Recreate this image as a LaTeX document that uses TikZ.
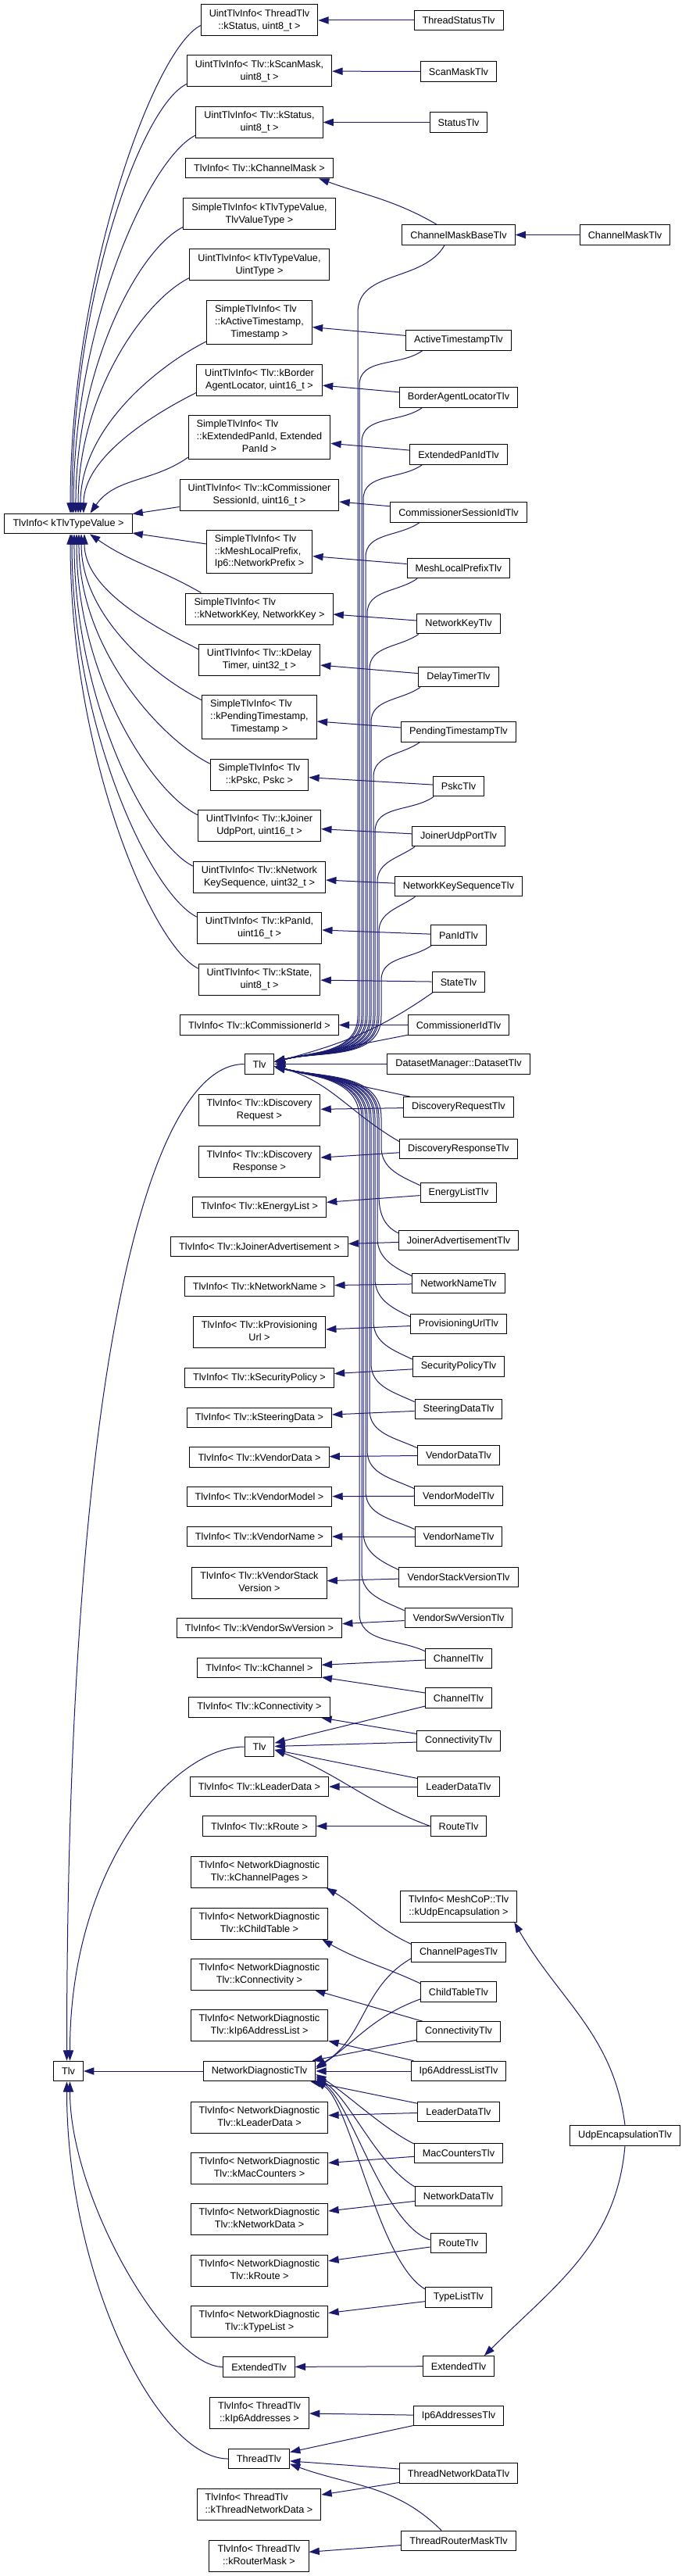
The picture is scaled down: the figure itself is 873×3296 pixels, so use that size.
\documentclass[tikz,border=0pt]{standalone}
\usepackage{fontspec}
\setmainfont{Liberation Sans}
\usetikzlibrary{arrows.meta,backgrounds}

\definecolor{edgeblue}{RGB}{25,25,112}
\newcommand{\twolines}[2]{\begin{tabular}{@{}l@{}}#1\\\multicolumn{1}{@{}c@{}}{#2}\end{tabular}}

\begin{document}
\begin{tikzpicture}[x=0.75pt, y=0.75pt,
    every node/.append style={font=\fontsize{9.5}{11.8}\selectfont},
    derive/.style={draw=edgeblue, line width=0.75pt, -{Triangle[length=10pt,width=7pt]}}]
  \tikzstyle{classbox} = [draw=black, fill=white, line width=0.75pt, inner xsep=7.9pt, inner ysep=3.2pt, minimum height=19.3pt]
  \useasboundingbox (0,0) rectangle (873,-3296);

  % bases on the left
  \node[classbox] (TlvTV) at (87.5,-670) {TlvInfo< kTlvTypeValue >};
  \node[classbox] (TlvMain) at (87.5,-2650) {Tlv};

  % middle column
  \node[classbox] (UThreadStatus) at (332,-26) {\twolines{UintTlvInfo< ThreadTlv}{::kStatus, uint8\_t >}};
  \node[classbox] (UScanMask) at (332,-91) {\twolines{UintTlvInfo< Tlv::kScanMask,}{uint8\_t >}};
  \node[classbox] (UStatus) at (332,-156.5) {\twolines{UintTlvInfo< Tlv::kStatus,}{uint8\_t >}};
  \node[classbox] (TChannelMask) at (332,-215) {TlvInfo< Tlv::kChannelMask >};
  \node[classbox] (SGeneric) at (332,-274) {\twolines{SimpleTlvInfo< kTlvTypeValue,}{TlvValueType >}};
  \node[classbox] (UGeneric) at (332,-339) {\twolines{UintTlvInfo< kTlvTypeValue,}{UintType >}};
  \node[classbox] (SActiveTs) at (332,-412.5) {\twolines{SimpleTlvInfo< Tlv\\::kActiveTimestamp,}{Timestamp >}};
  \node[classbox] (UBorderAgent) at (332,-486) {\twolines{UintTlvInfo< Tlv::kBorder}{AgentLocator, uint16\_t >}};
  \node[classbox] (SExtPanId) at (332,-559.5) {\twolines{SimpleTlvInfo< Tlv\\::kExtendedPanId, Extended}{PanId >}};
  \node[classbox] (UCommSession) at (332,-633) {\twolines{UintTlvInfo< Tlv::kCommissioner}{SessionId, uint16\_t >}};
  \node[classbox] (SMeshLocal) at (332,-706) {\twolines{SimpleTlvInfo< Tlv\\::kMeshLocalPrefix,}{Ip6::NetworkPrefix >}};
  \node[classbox] (SNetworkKey) at (332,-779) {\twolines{SimpleTlvInfo< Tlv}{::kNetworkKey, NetworkKey >}};
  \node[classbox] (UDelayTimer) at (332,-844.5) {\twolines{UintTlvInfo< Tlv::kDelay}{Timer, uint32\_t >}};
  \node[classbox] (SPendingTs) at (332,-917.5) {\twolines{SimpleTlvInfo< Tlv\\::kPendingTimestamp,}{Timestamp >}};
  \node[classbox] (SPskc) at (332,-991) {\twolines{SimpleTlvInfo< Tlv}{::kPskc, Pskc >}};
  \node[classbox] (UJoinerUdp) at (332,-1056.5) {\twolines{UintTlvInfo< Tlv::kJoiner}{UdpPort, uint16\_t >}};
  \node[classbox] (UNetKeySeq) at (332,-1122) {\twolines{UintTlvInfo< Tlv::kNetwork}{KeySequence, uint32\_t >}};
  \node[classbox] (UPanId) at (332,-1187) {\twolines{UintTlvInfo< Tlv::kPanId,}{uint16\_t >}};
  \node[classbox] (UState) at (332,-1253) {\twolines{UintTlvInfo< Tlv::kState,}{uint8\_t >}};
  \node[classbox] (TCommId) at (332,-1311.5) {TlvInfo< Tlv::kCommissionerId >};
  \node[classbox] (TlvA) at (332,-1361.5) {Tlv};
  \node[classbox] (TDiscReq) at (332,-1420.5) {\twolines{TlvInfo< Tlv::kDiscovery}{Request >}};
  \node[classbox] (TDiscResp) at (332,-1486) {\twolines{TlvInfo< Tlv::kDiscovery}{Response >}};
  \node[classbox] (TEnergyList) at (332,-1544.5) {TlvInfo< Tlv::kEnergyList >};
  \node[classbox] (TJoinerAdv) at (332,-1595) {TlvInfo< Tlv::kJoinerAdvertisement >};
  \node[classbox] (TNetworkName) at (332,-1646) {TlvInfo< Tlv::kNetworkName >};
  \node[classbox] (TProvUrl) at (332,-1704.5) {\twolines{TlvInfo< Tlv::kProvisioning}{Url >}};
  \node[classbox] (TSecPolicy) at (332,-1763) {TlvInfo< Tlv::kSecurityPolicy >};
  \node[classbox] (TSteeringData) at (332,-1814) {TlvInfo< Tlv::kSteeringData >};
  \node[classbox] (TVendorData) at (332,-1864.5) {TlvInfo< Tlv::kVendorData >};
  \node[classbox] (TVendorModel) at (332,-1915) {TlvInfo< Tlv::kVendorModel >};
  \node[classbox] (TVendorName) at (332,-1966) {TlvInfo< Tlv::kVendorName >};
  \node[classbox] (TVendorStack) at (332,-2025) {\twolines{TlvInfo< Tlv::kVendorStack}{Version >}};
  \node[classbox] (TVendorSw) at (332,-2083) {TlvInfo< Tlv::kVendorSwVersion >};
  \node[classbox] (TChannel) at (332,-2134) {TlvInfo< Tlv::kChannel >};
  \node[classbox] (TConnectivity) at (332,-2184.5) {TlvInfo< Tlv::kConnectivity >};
  \node[classbox] (TlvB) at (332,-2235) {Tlv};
  \node[classbox] (TLeaderData) at (332,-2286) {TlvInfo< Tlv::kLeaderData >};
  \node[classbox] (TRoute) at (332,-2336.5) {TlvInfo< Tlv::kRoute >};
  \node[classbox] (NChannelPages) at (332,-2395) {\twolines{TlvInfo< NetworkDiagnostic}{Tlv::kChannelPages >}};
  \node[classbox] (NChildTable) at (332,-2461) {\twolines{TlvInfo< NetworkDiagnostic}{Tlv::kChildTable >}};
  \node[classbox] (NConnectivity) at (332,-2526) {\twolines{TlvInfo< NetworkDiagnostic}{Tlv::kConnectivity >}};
  \node[classbox] (NIp6AddrList) at (332,-2591) {\twolines{TlvInfo< NetworkDiagnostic}{Tlv::kIp6AddressList >}};
  \node[classbox] (NetDiagTlv) at (332,-2650) {NetworkDiagnosticTlv};
  \node[classbox] (NLeaderData) at (332,-2709) {\twolines{TlvInfo< NetworkDiagnostic}{Tlv::kLeaderData >}};
  \node[classbox] (NMacCounters) at (332,-2774) {\twolines{TlvInfo< NetworkDiagnostic}{Tlv::kMacCounters >}};
  \node[classbox] (NNetworkData) at (332,-2839) {\twolines{TlvInfo< NetworkDiagnostic}{Tlv::kNetworkData >}};
  \node[classbox] (NRoute) at (332,-2905) {\twolines{TlvInfo< NetworkDiagnostic}{Tlv::kRoute >}};
  \node[classbox] (NTypeList) at (332,-2970) {\twolines{TlvInfo< NetworkDiagnostic}{Tlv::kTypeList >}};
  \node[classbox] (ExtTlvBase) at (331.5,-3028.5) {ExtendedTlv};
  \node[classbox] (TIp6Addrs) at (332,-3087) {\twolines{TlvInfo< ThreadTlv}{::kIp6Addresses >}};
  \node[classbox] (ThreadTlv) at (331.5,-3146) {ThreadTlv};
  \node[classbox] (TThreadNetData) at (331.5,-3204.5) {\twolines{TlvInfo< ThreadTlv}{::kThreadNetworkData >}};
  \node[classbox] (TRouterMask) at (331.5,-3270) {\twolines{TlvInfo< ThreadTlv}{::kRouterMask >}};

  % derived classes
  \foreach \nm/\yy in {ThreadStatusTlv/26, ScanMaskTlv/91.5, StatusTlv/156.5, ChannelMaskBaseTlv/300.5,
      ActiveTimestampTlv/435.5, BorderAgentLocatorTlv/508.5, ExtendedPanIdTlv/581.5, CommissionerSessionIdTlv/655.5,
      MeshLocalPrefixTlv/727, NetworkKeyTlv/798, DelayTimerTlv/866, PendingTimestampTlv/936.5, PskcTlv/1006,
      JoinerUdpPortTlv/1070, NetworkKeySequenceTlv/1134, PanIdTlv/1196.5, StateTlv/1256.5, CommissionerIdTlv/1311.5,
      DiscoveryRequestTlv/1416.5, DiscoveryResponseTlv/1470, EnergyListTlv/1526, JoinerAdvertisementTlv/1587,
      NetworkNameTlv/1642, ProvisioningUrlTlv/1694, SecurityPolicyTlv/1748.5, SteeringDataTlv/1803,
      VendorDataTlv/1862, VendorModelTlv/1914, VendorNameTlv/1966, VendorStackVersionTlv/2018,
      VendorSwVersionTlv/2070, ChannelPagesTlv/2498, ChildTableTlv/2548.5, Ip6AddressListTlv/2650,
      MacCountersTlv/2755, NetworkDataTlv/2810, TypeListTlv/2939.5, ExtendedTlv/3027.5, Ip6AddressesTlv/3091,
      ThreadNetworkDataTlv/3164.5, ThreadRouterMaskTlv/3251}
    \node[classbox] (\nm) at (587,-\yy) {\nm};
  \node[classbox] (DatasetTlv) at (587,-1361.5) {DatasetManager::DatasetTlv};
  \node[classbox] (ChannelTlvA) at (587,-2122) {ChannelTlv};
  \node[classbox] (ChannelTlvB) at (587,-2172.5) {ChannelTlv};
  \node[classbox] (ConnectivityTlvB) at (587,-2227.5) {ConnectivityTlv};
  \node[classbox] (LeaderDataTlvB) at (587,-2286) {LeaderDataTlv};
  \node[classbox] (RouteTlvB) at (587,-2336.5) {RouteTlv};
  \node[classbox] (TUdpEncap) at (587,-2439) {\twolines{TlvInfo< MeshCoP::Tlv}{::kUdpEncapsulation >}};
  \node[classbox] (ConnectivityTlvN) at (587,-2599.5) {ConnectivityTlv};
  \node[classbox] (LeaderDataTlvN) at (587,-2702) {LeaderDataTlv};
  \node[classbox] (RouteTlvN) at (587,-2870) {RouteTlv};
  \node[classbox] (ChannelMaskTlv) at (800,-300.5) {ChannelMaskTlv};
  \node[classbox] (UdpEncapsulationTlv) at (800,-2732.5) {UdpEncapsulationTlv};

  \begin{scope}[on background layer]
    \fill[white] (0,0) rectangle (873,-3296);
    \foreach \a/\b in {ThreadStatusTlv/UThreadStatus, ScanMaskTlv/UScanMask, StatusTlv/UStatus,
        ChannelMaskTlv/ChannelMaskBaseTlv, ActiveTimestampTlv/SActiveTs, BorderAgentLocatorTlv/UBorderAgent,
        ExtendedPanIdTlv/SExtPanId, CommissionerSessionIdTlv/UCommSession, MeshLocalPrefixTlv/SMeshLocal,
        NetworkKeyTlv/SNetworkKey, DelayTimerTlv/UDelayTimer, PendingTimestampTlv/SPendingTs, PskcTlv/SPskc,
        JoinerUdpPortTlv/UJoinerUdp, NetworkKeySequenceTlv/UNetKeySeq, PanIdTlv/UPanId, StateTlv/UState,
        CommissionerIdTlv/TCommId, CommissionerIdTlv/TlvA, DatasetTlv/TlvA, DiscoveryRequestTlv/TDiscReq,
        DiscoveryRequestTlv/TlvA, DiscoveryResponseTlv/TDiscResp, EnergyListTlv/TEnergyList,
        JoinerAdvertisementTlv/TJoinerAdv, NetworkNameTlv/TNetworkName, ProvisioningUrlTlv/TProvUrl,
        SecurityPolicyTlv/TSecPolicy, SteeringDataTlv/TSteeringData, VendorDataTlv/TVendorData,
        VendorModelTlv/TVendorModel, VendorNameTlv/TVendorName, VendorStackVersionTlv/TVendorStack,
        VendorSwVersionTlv/TVendorSw, ChannelTlvA/TChannel, ChannelTlvB/TChannel, ChannelTlvB/TlvB,
        ConnectivityTlvB/TConnectivity, ConnectivityTlvB/TlvB, LeaderDataTlvB/TLeaderData, LeaderDataTlvB/TlvB,
        RouteTlvB/TRoute, ConnectivityTlvN/NConnectivity, ConnectivityTlvN/NetDiagTlv,
        Ip6AddressListTlv/NIp6AddrList, Ip6AddressListTlv/NetDiagTlv, LeaderDataTlvN/NLeaderData,
        LeaderDataTlvN/NetDiagTlv, MacCountersTlv/NMacCounters, NetworkDataTlv/NNetworkData, RouteTlvN/NRoute,
        TypeListTlv/NTypeList, NetDiagTlv/TlvMain, ExtendedTlv/ExtTlvBase, Ip6AddressesTlv/TIp6Addrs,
        Ip6AddressesTlv/ThreadTlv, ThreadNetworkDataTlv/ThreadTlv, ThreadNetworkDataTlv/TThreadNetData,
        ThreadRouterMaskTlv/TRouterMask, UCommSession/TlvTV, SMeshLocal/TlvTV}
      \draw[derive] (\a) -- (\b);

    % into TlvInfo< kTlvTypeValue >
    \draw[derive] ([yshift=-5pt]UThreadStatus.west) .. controls +(-60,-30) and +(0,300) .. ([xshift=1.9pt]TlvTV.north);
    \foreach \nm/\ex/\cl in {UScanMask/3.4pt/270, UStatus/4.9pt/240, SGeneric/7.1pt/180, UGeneric/9.4pt/150,
        SActiveTs/11.6pt/110, UBorderAgent/14.6pt/70}
      \draw[derive] ([yshift=3pt]\nm.south west) .. controls +(-60,-30) and +(0,\cl) .. ([xshift=\ex]TlvTV.north);
    \draw[derive] ([yshift=2pt]SExtPanId.south west) to[out=215,in=55] ([xshift=21pt]TlvTV.north);
    \draw[derive] ([xshift=15pt]SNetworkKey.north west) to[out=150,in=-35] ([xshift=20.6pt]TlvTV.south);
    \foreach \nm/\ex/\cl in {UDelayTimer/15.4pt/70, SPendingTs/12.4pt/105, SPskc/10.1pt/150, UJoinerUdp/7.9pt/180,
        UNetKeySeq/5.6pt/210, UPanId/3.4pt/245, UState/1.9pt/280}
      \draw[derive] ([yshift=-5pt]\nm.north west) .. controls +(-60,30) and +(0,-\cl) .. ([xshift=\ex]TlvTV.south);

    % into the first Tlv
    \draw[derive] ([xshift=-13.5pt]ChannelMaskBaseTlv.south) to[out=240,in=90] (458,-400) -- (458,-1300)
      to[out=-90,in=15] ([yshift=2pt]TlvA.east);
    \foreach \nm/\sh/\yb/\xw in {ActiveTimestampTlv/16pt/448/460, BorderAgentLocatorTlv/22pt/521/463,
        ExtendedPanIdTlv/12pt/594/465, CommissionerSessionIdTlv/28pt/668/468, MeshLocalPrefixTlv/10pt/740/470,
        NetworkKeyTlv/2pt/811/473, DelayTimerTlv/2pt/879/475, PendingTimestampTlv/18pt/949/478,
        PskcTlv/1pt/1019/480, JoinerUdpPortTlv/3pt/1083/483, NetworkKeySequenceTlv/20pt/1147/485,
        PanIdTlv/1pt/1209/488}
      \draw[derive] ([xshift=\sh]\nm.south west) to[out=215,in=90] (\xw,-\yb-45) -- (\xw,-1300)
        to[out=-90,in=15] ([yshift=2pt]TlvA.east);
    \draw[derive] ([xshift=1pt]StateTlv.south west) to[out=215,in=15] ([yshift=2pt]TlvA.east);
    \draw[derive] ([yshift=-3pt]DiscoveryResponseTlv.north west) to[out=150,in=-15] ([yshift=-2pt]TlvA.east);
    \foreach \nm/\yt/\xw in {EnergyListTlv/1513/488, JoinerAdvertisementTlv/1574/485, NetworkNameTlv/1629/483,
        ProvisioningUrlTlv/1681/480, SecurityPolicyTlv/1736/478, SteeringDataTlv/1790/475, VendorDataTlv/1849/473,
        VendorModelTlv/1901/470, VendorNameTlv/1953/468, VendorStackVersionTlv/2005/465,
        VendorSwVersionTlv/2057/463, ChannelTlvA/2109/460}
      \draw[derive] ([yshift=-3pt]\nm.north west) to[out=155,in=-90] (\xw,-\yt+45) -- (\xw,-1430)
        to[out=90,in=-15] ([yshift=-2pt]TlvA.east);
    \draw[derive] ([xshift=-21pt]ChannelMaskBaseTlv.north) to[out=150,in=-20] ([xshift=-14pt]TChannelMask.south east);

    % second Tlv
    \draw[derive] (RouteTlvB.west) to[out=160,in=-20] ([yshift=-3pt]TlvB.east);

    % into the main Tlv
    \draw[derive] (TlvA.west) .. controls +(-120,0) and +(0,900) .. ([xshift=-1.5pt]TlvMain.north);
    \draw[derive] (TlvB.west) .. controls +(-90,0) and +(0,250) .. ([xshift=1.5pt]TlvMain.north);
    \draw[derive] (ExtTlvBase.west) .. controls +(-70,0) and +(0,-150) .. ([xshift=1.5pt]TlvMain.south);
    \draw[derive] (ThreadTlv.west) .. controls +(-90,0) and +(0,-250) .. ([xshift=-1.5pt]TlvMain.south);

    % network diagnostic
    \draw[derive] ([yshift=-2pt]ChannelPagesTlv.north west) to[out=155,in=-30] ([xshift=-2pt]NChannelPages.south east);
    \draw[derive] ([yshift=-2pt]ChildTableTlv.north west) to[out=155,in=-30] ([xshift=-6pt]NChildTable.south east);
    \draw[derive] ([yshift=4pt]ChannelPagesTlv.south west) to[out=210,in=30] ([yshift=4pt]NetDiagTlv.east);
    \draw[derive] ([yshift=3pt]ChildTableTlv.south west) to[out=200,in=35] ([yshift=2pt]NetDiagTlv.east);
    \draw[derive] ([yshift=-1pt]MacCountersTlv.north west) .. controls +(-40,20) and +(40,-25) .. ([yshift=-3pt]NetDiagTlv.east);
    \draw[derive] ([yshift=-1pt]NetworkDataTlv.north west) .. controls +(-50,30) and +(45,-30) .. ([yshift=-5pt]NetDiagTlv.east);
    \draw[derive] ([yshift=3pt]RouteTlvN.west) .. controls +(-60,20) and +(45,-30) .. ([yshift=-7pt]NetDiagTlv.east);
    \draw[derive] ([yshift=-2pt]TypeListTlv.north west) .. controls +(-60,35) and +(45,-30) .. ([yshift=-9pt]NetDiagTlv.east);

    % udp encapsulation
    \draw[derive] (UdpEncapsulationTlv.north) to[out=97,in=-60] ([xshift=-3pt]TUdpEncap.south east);
    \draw[derive] (UdpEncapsulationTlv.south) to[out=-95,in=45] ([xshift=-10pt]ExtendedTlv.north east);

    % thread
    \draw[derive] ([xshift=-16.5pt]ThreadRouterMaskTlv.north) to[out=135,in=-20] ([yshift=-5pt]ThreadTlv.east);
  \end{scope}
\end{tikzpicture}
\end{document}
